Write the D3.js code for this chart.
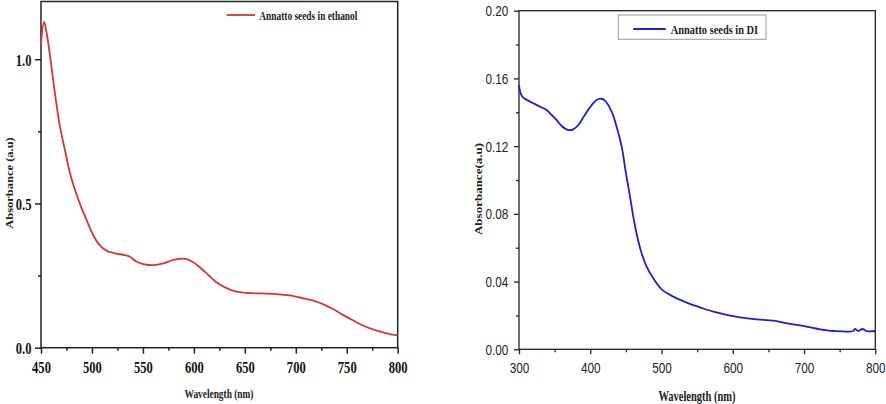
<!DOCTYPE html>
<html><head><meta charset="utf-8">
<script src="https://cdn.jsdelivr.net/npm/d3@7"></script>
<style>body{margin:0;background:#fff}svg{display:block}</style>
</head><body>
<svg id="c" width="886" height="404"></svg>
<script>
// Left chart: Annatto seeds in ethanol
const ethWl  = [450,453,455.6,459,463.7,468.6,473.5,478.5,485,490,494.8,500.4,506.3,514.4,522.6,532.4,537.3,543.9,550.4,560.2,570,579.9,588,593,599.5,606,614.2,622.4,630.6,638.7,648.6,664.9,681.3,694.4,704.2,717.3,727.1,736.9,746.7,756.5,766.3,779.4,789.2,800];
const ethAbs = [1.054,1.129,1.089,1.008,0.881,0.766,0.685,0.604,0.530,0.482,0.442,0.396,0.361,0.336,0.327,0.321,0.315,0.298,0.290,0.286,0.292,0.304,0.309,0.307,0.296,0.278,0.252,0.226,0.209,0.197,0.191,0.188,0.186,0.181,0.174,0.163,0.150,0.133,0.113,0.094,0.076,0.059,0.050,0.043];
const ethXTicks = [450,500,550,600,650,700,750,800];
const ethYTicks = [0,0.5,1.0];
// Right chart: Annatto seeds in DI
const diWl  = [300,302.3,306,311.7,320.1,329.5,338.8,345.8,352.9,359.9,369.2,376.2,383.3,390.3,399.6,409,415.1,420.7,430,437,444.1,450.1,455.8,460.4,466,472.1,479.1,488.5,500.2,516.6,535.3,554,572.7,591.4,610.1,633.5,656.9,680.3,703.6,722.4,741.1,769.1,771.5,776.2,782.2,787.8,800];
const diAbs = [0.1561,0.1512,0.1486,0.1472,0.1453,0.1433,0.1413,0.1384,0.1354,0.1319,0.1295,0.1299,0.1325,0.1370,0.1429,0.1472,0.1480,0.1469,0.1404,0.1315,0.1197,0.1039,0.0902,0.0783,0.0665,0.0567,0.0488,0.0419,0.0354,0.0311,0.0276,0.0248,0.0222,0.0203,0.0189,0.0177,0.0169,0.0150,0.0134,0.0118,0.0108,0.0108,0.0120,0.0108,0.0120,0.0108,0.0108];
const diXTicks = [300,400,500,600,700,800];
const diYTicks = [0,0.04,0.08,0.12,0.16,0.20];

const svg = d3.select("#c");

function stext(g, x, y, s, str, opts) {
  const t = g.append("text").attr("transform", `translate(${x},${y}) scale(${s},1)`).text(str);
  for (const k in opts) t.attr(k, opts[k]);
  return t;
}

// ---------- Left ----------
{
  const x = d3.scaleLinear().domain([450,800]).range([41,397.7]);
  const y = d3.scaleLinear().domain([0,1.2]).range([347.7,1.5]);
  const g = svg.append("g");
  g.append("rect").attr("x",41).attr("y",1.5).attr("width",356.7).attr("height",346.2)
    .attr("fill","none").attr("stroke","#222").attr("stroke-width",1.5);
  const xm = g.append("g").attr("transform","translate(0,347.7)")
    .call(d3.axisBottom(x).tickValues([475,525,575,625,675,725,775]).tickSize(3).tickFormat(""));
  const ym = g.append("g").attr("transform","translate(41,0)")
    .call(d3.axisLeft(y).tickValues([0.25,0.75]).tickSize(3).tickFormat(""));
  const xa = g.append("g").attr("transform","translate(0,347.7)")
    .call(d3.axisBottom(x).tickValues(ethXTicks).tickSize(6).tickPadding(7).tickFormat(d3.format("d")));
  const ya = g.append("g").attr("transform","translate(41,0)")
    .call(d3.axisLeft(y).tickValues(ethYTicks).tickSize(6).tickFormat(d3.format(".1f")));
  [xm,ym,xa,ya].forEach(a=>{a.select(".domain").remove(); a.selectAll("line").attr("stroke","#222").attr("stroke-width",1.5);});
  const s = 0.74;
  xa.selectAll("text").attr("font-family","Liberation Serif").attr("font-weight","bold").attr("font-size",17)
    .attr("fill","#111").attr("transform",`scale(${s},1)`);
  ya.selectAll("text").attr("font-family","Liberation Serif").attr("font-weight","bold").attr("font-size",17)
    .attr("fill","#111").attr("transform",`scale(${s},1)`).attr("x",-9.5/s).attr("dy","0.35em");
  const line = d3.line().x(d=>x(d[0])).y(d=>y(d[1])).curve(d3.curveCatmullRom.alpha(0.5));
  g.append("path").datum(ethWl.map((w,i)=>[w,ethAbs[i]])).attr("d",line)
    .attr("fill","none").attr("stroke","#d3353c").attr("stroke-width",1.8);
  stext(g,219,398,0.75,"Wavelength (nm)",{"font-family":"Liberation Serif","font-weight":"bold","font-size":12.5,"text-anchor":"middle","fill":"#222"});
  g.append("text").attr("transform","translate(13,183) rotate(-90) scale(1,0.8)")
    .attr("font-family","Liberation Serif").attr("font-weight","bold").attr("font-size",12.5)
    .attr("text-anchor","middle").attr("fill","#222").text("Absorbance (a.u)");
  g.append("line").attr("x1",226.7).attr("x2",255).attr("y1",15).attr("y2",15)
    .attr("stroke","#d3353c").attr("stroke-width",1.8);
  stext(g,259.3,19.5,0.75,"Annatto seeds in ethanol",{"font-family":"Liberation Serif","font-weight":"bold","font-size":12.5,"fill":"#222"});
}

// ---------- Right ----------
{
  const x = d3.scaleLinear().domain([300,800]).range([519,875.3]);
  const y = d3.scaleLinear().domain([0,0.2]).range([349.3,10.7]);
  const g = svg.append("g");
  g.append("rect").attr("x",519).attr("y",10.7).attr("width",356.3).attr("height",338.6)
    .attr("fill","none").attr("stroke","#222").attr("stroke-width",1.3);
  const xm = g.append("g").attr("transform","translate(0,349.3)")
    .call(d3.axisBottom(x).tickValues([350,450,550,650,750]).tickSize(3).tickFormat(""));
  const ym = g.append("g").attr("transform","translate(519,0)")
    .call(d3.axisLeft(y).tickValues([0.02,0.06,0.10,0.14,0.18]).tickSize(3).tickFormat(""));
  const xa = g.append("g").attr("transform","translate(0,349.3)")
    .call(d3.axisBottom(x).tickValues(diXTicks).tickSize(5).tickPadding(9).tickFormat(d3.format("d")));
  const ya = g.append("g").attr("transform","translate(519,0)")
    .call(d3.axisLeft(y).tickValues(diYTicks).tickSize(5).tickFormat(d3.format(".2f")));
  [xm,ym,xa,ya].forEach(a=>{a.select(".domain").remove(); a.selectAll("line").attr("stroke","#222").attr("stroke-width",1.3);});
  const s = 0.84;
  xa.selectAll("text").attr("font-family","Liberation Sans").attr("font-size",14)
    .attr("fill","#222").attr("transform",`scale(${s},1)`);
  ya.selectAll("text").attr("font-family","Liberation Sans").attr("font-size",14)
    .attr("fill","#222").attr("transform",`scale(${s},1)`).attr("x",-10.7/s).attr("dy","0.35em");
  const line = d3.line().x(d=>x(d[0])).y(d=>y(d[1])).curve(d3.curveCatmullRom.alpha(0.5));
  g.append("path").datum(diWl.map((w,i)=>[w,diAbs[i]])).attr("d",line)
    .attr("fill","none").attr("stroke","#1f1fd0").attr("stroke-width",1.8);
  stext(g,697,400.5,0.75,"Wavelength (nm)",{"font-family":"Liberation Serif","font-weight":"bold","font-size":14,"text-anchor":"middle","fill":"#222"});
  g.append("text").attr("transform","translate(482,189) rotate(-90) scale(1,0.8)")
    .attr("font-family","Liberation Serif").attr("font-weight","bold").attr("font-size",13)
    .attr("text-anchor","middle").attr("fill","#222").text("Absorbance(a.u)");
  g.append("rect").attr("x",618.3).attr("y",15).attr("width",147.7).attr("height",24.3)
    .attr("fill","#fff").attr("stroke","#999").attr("stroke-width",1);
  g.append("line").attr("x1",633.3).attr("x2",665.7).attr("y1",29).attr("y2",29)
    .attr("stroke","#1f1fd0").attr("stroke-width",1.8);
  stext(g,670.7,33.5,0.77,"Annatto seeds in DI",{"font-family":"Liberation Serif","font-weight":"bold","font-size":13.5,"fill":"#222"});
}
</script>
</body></html>
